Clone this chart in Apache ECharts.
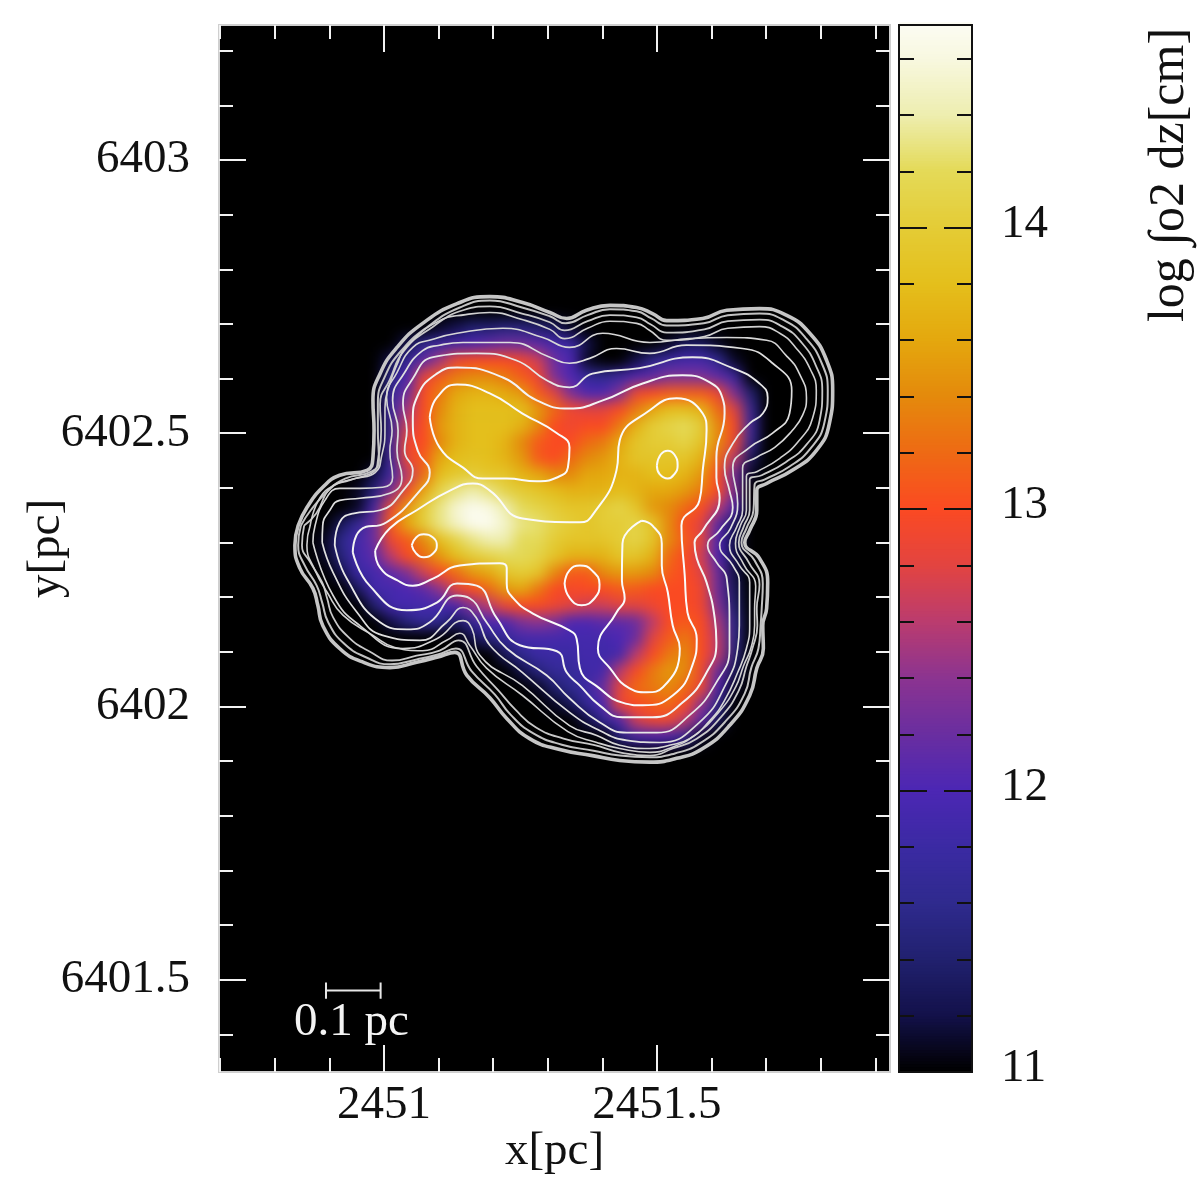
<!DOCTYPE html>
<html>
<head>
<meta charset="utf-8">
<title>log column density map</title>
<script src="https://cdn.jsdelivr.net/npm/echarts@6/dist/echarts.min.js"></script>
<style>
  html, body { margin: 0; padding: 0; background: #fff; }
  #heatClip { position: absolute; left: 219px; top: 25px; width: 671px; height: 1047px; overflow: hidden; background: #000; }
  #heat { position: absolute; left: 0; top: 0; width: 671px; height: 1047px; filter: blur(7px); }
  #main { position: absolute; left: 0; top: 0; width: 1200px; height: 1200px; }
</style>
</head>
<body>
<div id="heatClip"><div id="heat"></div></div>
<div id="main"></div>
<script>
// Plot ranges in parsec and colour range in log column density.
const xRange = [2450.698, 2451.927];
const yRange = [6401.331, 6403.247];
const cRange = [11, 14.72];

// Axis ticks.
const xMajor = [2451, 2451.5];
const xMinor = [2450.7, 2450.8, 2450.9, 2451, 2451.1, 2451.2, 2451.3, 2451.4, 2451.5, 2451.6, 2451.7, 2451.8, 2451.9];
const yMajor = [6401.5, 6402, 6402.5, 6403];
const yMinor = [6401.4, 6401.5, 6401.6, 6401.7, 6401.8, 6401.9, 6402, 6402.1, 6402.2, 6402.3, 6402.4, 6402.5, 6402.6, 6402.7, 6402.8, 6402.9, 6403, 6403.1, 6403.2];
const cLabels = [11, 12, 13, 14];
const cMajor = [12, 13, 14];
const cMinor = [11.2, 11.4, 11.6, 11.8, 12, 12.2, 12.4, 12.6, 12.8, 13, 13.2, 13.4, 13.6, 13.8, 14, 14.2, 14.4, 14.6];

// Colour map, one stop every 0.2 dex from 11 to 14.8.
const colourStops = ['#000000', '#13114a', '#21216f', '#2f2a8e', '#3b2aa3', '#4c27b4', '#6a2ea0', '#8c3490', '#bb3c6e', '#e34440',
  '#fb4a22', '#ee6a14', '#e48a0c', '#e4a80e', '#e4bf1c', '#e4cc36', '#e4da58', '#eeeeb0', '#f8f8e0', '#ffffff'];

// Projected map on a 41 x 64 cell lattice; rows below start at row 18, columns at column 6.
const cols = 41, rows = 64, firstRow = 18, firstCol = 6;
const heatRows = [
  [11,11,11,11,11,11,11,11.1,11.2,11.4,11.4,11.5,11.5,11.4,11.3,11.1,11,11,11,11,11,11,11,11,11,11,11,11],
  [11,11,11,11,11,11.2,11.6,11.8,11.9,12,12.1,12.2,12.2,12.1,11.9,11.8,11.2,11,11,11,11,11.1,11.3,11.3,11.1,11,11,11],
  [11,11,11,11,11.2,11.7,12.1,12.5,12.9,13,13,13,12.9,12.7,12.2,12,11.1,11,11,11.2,11.6,11.8,11.9,11.9,11.6,11.1,11,11],
  [11,11,11,11,11.5,12,12.8,13.1,13.3,13.4,13.4,13.3,13.1,12.9,12.3,12,11.7,11.6,11.8,12,12.1,12.3,12.3,12.3,12.1,11.8,11,11],
  [11,11,11,11,11.7,12.2,13,13.3,13.6,13.7,13.7,13.6,13.5,13.1,12.8,12.3,12,12,12.3,12.9,13,13.1,13.1,13.1,12.9,12.3,11.4,11],
  [11,11,11,11,11.8,12.5,13,13.4,13.7,13.8,13.8,13.8,13.8,13.5,13.2,12.9,12.8,12.8,13,13.3,13.6,13.8,13.8,13.7,13.2,12.8,11.7,11],
  [11,11,11,11,11.7,12.7,13,13.5,13.7,13.8,13.8,13.8,13.7,13.4,13,12.9,13,13,13.3,13.7,14,14.1,14.2,14,13.4,13,11.8,11],
  [11,11,11,11,11.8,12.9,13,13.4,13.7,13.8,13.8,13.7,13.4,13.1,13,13,13.2,13.3,13.6,13.9,14,14,14.1,13.9,13.4,12.9,11.7,11],
  [11,11,11,11,11.8,12.9,13.1,13.6,13.8,13.85,13.8,13.7,13.5,13.1,13,13.2,13.4,13.5,13.7,13.9,13.9,13.9,13.9,13.7,13.2,12.6,11.3,11],
  [11,11,11,11.2,11.8,12.6,13.2,13.8,13.95,14,13.9,13.9,13.7,13.6,13.4,13.4,13.6,13.6,13.7,13.7,13.8,13.8,13.7,13.5,13,12.2,11.1,11],
  [11,11,11.1,11.5,12.3,13,13.6,14.1,14.3,14.4,14.3,14.1,14,13.9,13.8,13.7,13.7,13.7,13.8,13.7,13.6,13.6,13.5,13.3,13,12.3,11,11],
  [11,11,11.1,11.9,12.9,13.5,14,14.3,14.55,14.7,14.6,14.4,14.2,14.1,14,13.9,13.9,14,14.1,13.9,13.5,13.4,13.2,13,12.6,12,11,11],
  [11,11.3,11.7,12.2,13.1,13.6,14,14.3,14.5,14.7,14.7,14.5,14.3,14.25,14.1,14,13.9,14,14,14.1,13.9,13.4,13,12.8,12.1,11.3,11,11],
  [11.1,11.6,11.9,12.2,12.9,13.1,13.4,13.8,14.1,14.3,14.4,14.4,14.2,14.2,14,13.9,13.9,13.9,14,14.1,13.9,13.4,13.1,12.8,12,11.2,11,11],
  [11.1,11.5,11.9,12.1,12.6,13,13.2,13.5,13.8,14,14.1,14.2,14.2,14.1,13.9,13.7,13.7,13.7,13.9,13.9,13.7,13.2,13,12.7,12,11.2,11,11],
  [11,11.2,11.8,11.9,12.1,12.3,12.7,13,13.2,13.5,13.6,13.9,14,13.9,13.4,13.1,13.1,13.4,13.5,13.5,13.4,13.1,13,12.8,12.2,11.2,11,11],
  [11,11,11.3,11.9,11.9,12,12.1,12.4,12.8,13,13.2,13.5,13.6,13.3,13,12.95,13,13,13.1,13.1,13,13,13,12.9,12.2,11.3,11,11],
  [11,11,11,11.4,11.9,11.9,11.9,11.9,12,12.4,12.6,12.9,13,13,12.9,12.8,12.7,12.7,12.8,12.8,12.9,13,13,12.9,12.3,11.4,11,11],
  [11,11,11,11,11.2,11.5,11.7,11.6,11.3,11.7,12,12,12.3,12.4,12.3,12,12,12.1,12.1,12.2,12.6,13,13.1,13,12.5,11.6,11,11],
  [11,11,11,11,11,11,11,11,11,11.2,11.5,11.7,11.9,11.9,11.9,11.9,11.9,11.9,12,12.2,12.8,13.1,13.3,13,12.6,11.6,11,11],
  [11,11,11,11,11,11,11,11,11,11,11,11.3,11.6,11.8,11.8,11.8,11.9,11.85,11.9,12.6,13,13.3,13.4,13,12.6,11.5,11,11],
  [11,11,11,11,11,11,11,11,11,11,11,11,11.2,11.5,11.7,11.7,11.85,11.9,12.6,13,13.3,13.5,13.4,12.9,12.2,11.3,11,11],
  [11,11,11,11,11,11,11,11,11,11,11,11,11,11.1,11.4,11.6,11.8,12.2,12.8,13.2,13.3,13.4,13.2,12.9,12,11.1,11,11],
  [11,11,11,11,11,11,11,11,11,11,11,11,11,11,11.1,11.3,11.7,12,12.9,13,13.1,13.2,13,12.4,11.6,11,11,11],
  [11,11,11,11,11,11,11,11,11,11,11,11,11,11,11,11,11.2,11.7,12,12.7,12.9,12.9,12.6,12.1,11.3,11,11,11],
  [11,11,11,11,11,11,11,11,11,11,11,11,11,11,11,11,11,11,11.5,11.9,12,12,11.7,11.1,11,11,11,11]
];

// Contour reference point in pc; contour vertices are given in milli-parsec from it.
const originX = 2451, originY = 6402;

const contour0 = [[-157,331],[-141,364],[-112,401],[-81,423],[-31,432],[-20,456],[-18,505],[-20,560],[-7,609],[24,657],[71,701],[134,737],[194,750],[254,739],[304,721],[335,710],[371,725],[414,734],[463,730],[492,719],[518,706],[584,710],[628,725],[688,728],[737,716],[780,683],[811,633],[822,578],[816,518],[792,468],[748,432],[701,408],[683,395],[683,359],[670,322],[661,300],[688,271],[703,227],[701,179],[694,148],[695,106],[683,70],[670,20],[633,-35],[584,-77],[536,-95],[487,-102],[432,-99],[382,-90],[322,-79],[267,-59],[225,-22],[194,16],[152,57],[130,99],[97,90],[60,81],[11,71],[-38,81],[-81,106],[-112,148],[-121,185],[-130,216],[-154,253],[-163,295]];
const contour1 = [[-152,331],[-134,359],[-104,393],[-71,417],[-22,430],[-9,450],[-11,505],[-11,556],[2,604],[31,650],[79,694],[139,730],[194,743],[253,730],[304,714],[333,701],[373,716],[414,727],[463,723],[490,710],[518,697],[586,701],[630,716],[688,719],[734,706],[772,675],[802,628],[813,578],[807,520],[783,474],[743,439],[697,415],[679,406],[677,359],[664,326],[655,300],[679,267],[694,225],[692,179],[690,148],[686,106],[673,71],[661,24],[626,-27],[578,-68],[533,-86],[487,-93],[432,-90],[384,-81],[326,-70],[273,-49],[232,-15],[203,22],[161,64],[132,106],[99,95],[60,86],[11,77],[-33,90],[-73,115],[-102,154],[-113,190],[-123,221],[-145,258],[-157,295]];
const contour2 = [[-146,331],[-124,353],[-97,401],[-62,414],[-16,432],[-11,450],[-5,505],[-7,553],[11,598],[37,651],[90,695],[145,725],[194,732],[253,719],[304,703],[331,688],[373,705],[414,716],[463,712],[489,699],[518,684],[587,690],[630,705],[688,708],[730,695],[765,666],[792,622],[803,578],[798,523],[774,479],[736,447],[692,423],[670,415],[670,359],[659,329],[650,300],[668,264],[688,223],[683,179],[684,148],[675,106],[664,73],[650,29],[617,-20],[573,-59],[529,-77],[487,-90],[432,-84],[386,-71],[329,-59],[278,-38],[240,-5],[210,29],[170,73],[137,121],[102,102],[60,93],[15,84],[-27,101],[-64,126],[-93,163],[-104,198],[-113,227],[-135,264],[-150,295]];
const contour3 = [[-135,331],[-117,382],[-88,406],[-53,417],[-16,428],[-4,459],[2,505],[2,547],[11,591],[26,630],[40,657],[102,706],[150,717],[194,721],[253,708],[304,690],[331,673],[373,692],[414,705],[463,701],[487,688],[518,670],[587,677],[630,692],[688,695],[725,683],[754,657],[781,617],[792,578],[785,527],[761,487],[725,454],[684,430],[664,421],[664,359],[653,331],[644,298],[659,260],[681,220],[679,179],[679,148],[672,106],[659,75],[644,35],[613,-11],[569,-53],[527,-75],[487,-84],[432,-77],[390,-66],[337,-46],[254,20],[188,70],[157,112],[139,134],[115,121],[71,102],[20,108],[-20,130],[-75,167],[-104,209],[-126,249],[-141,295]];
const contour4 = [[-130,300],[-126,331],[-108,377],[-81,399],[-44,399],[-2,401],[16,419],[11,468],[15,505],[5,565],[24,611],[53,657],[90,672],[134,683],[218,692],[291,675],[340,657],[401,683],[487,666],[560,673],[628,675],[701,670],[737,642],[761,609],[774,565],[767,533],[748,505],[716,474],[683,456],[657,436],[657,359],[646,328],[633,295],[651,258],[670,227],[670,179],[670,148],[664,106],[648,62],[624,11],[597,-26],[560,-59],[523,-71],[487,-77],[432,-71],[390,-53],[340,-35],[254,38],[176,93],[161,143],[145,157],[97,124],[35,106],[-44,148],[-93,203]];
const contour5 = [[-113,300],[-112,331],[-99,359],[-81,377],[-44,381],[11,390],[33,419],[24,468],[26,505],[16,560],[38,611],[71,651],[102,661],[145,666],[231,666],[304,639],[340,628],[377,637],[426,655],[487,646],[554,661],[657,655],[712,628],[747,578],[743,536],[712,500],[670,474],[639,437],[648,371],[635,326],[615,295],[639,258],[651,227],[651,148],[648,106],[628,44],[578,-29],[505,-66],[445,-62],[395,-44],[340,-11],[254,62],[194,112],[170,161],[145,181],[115,154],[66,121],[-2,130],[-49,172],[-93,245]];
const contour6 = [[-90,295],[-81,337],[-57,353],[-7,359],[35,395],[53,432],[38,468],[42,505],[35,554],[53,600],[90,639],[170,646],[243,633],[298,597],[340,584],[382,609],[468,619],[565,639],[639,619],[688,591],[703,565],[694,536],[670,518],[639,481],[624,437],[633,395],[639,364],[615,322],[593,295],[609,264],[628,234],[633,148],[633,106],[609,44],[560,-16],[500,-48],[445,-48],[395,-29],[340,15],[298,57],[225,106],[188,154],[157,198],[134,203],[84,154],[42,141],[-7,154],[-68,234]];
const contour7 = [[-57,282],[-44,322],[5,337],[66,395],[84,428],[62,468],[53,523],[62,569],[97,609],[134,620],[218,602],[280,560],[340,545],[401,560],[474,591],[547,606],[597,593],[620,565],[624,536],[609,456],[609,419],[615,382],[584,322],[569,300],[573,271],[591,227],[606,161],[609,117],[591,62],[547,7],[492,-20],[437,-20],[395,2],[359,38],[335,62],[317,101],[249,112],[207,161],[170,221],[134,225],[97,190],[42,176],[-26,221]];
const contourUpper = [[84,529],[97,565],[134,589],[194,573],[254,536],[317,500],[340,474],[337,437],[317,419],[280,412],[225,417],[181,417],[145,437],[102,474]];
const contourCore = [[-16,285],[-7,254],[24,231],[53,221],[90,234],[139,258],[212,262],[225,254],[225,225],[236,199],[273,170],[340,139],[353,124],[359,70],[395,33],[437,7],[474,2],[529,20],[565,75],[573,124],[556,172],[551,240],[545,331],[578,377],[584,432],[591,505],[584,536],[536,564],[487,542],[432,487],[426,432],[382,350],[359,337],[254,344],[194,395],[163,408],[121,395],[60,359],[11,326]];
const contourLower = [[472,340],[437,298],[436,231],[441,198],[426,172],[392,106],[414,70],[450,33],[481,26],[511,35],[542,106],[529,148],[520,209],[509,258],[509,298],[492,331]];
const loopWest = [[51,295],[59,309],[73,315],[90,309],[97,295],[90,280],[73,273],[59,280]];
const loopSouth = [[331,225],[340,249],[359,258],[381,249],[395,223],[386,198],[362,185],[340,199]];
const loopEast = [[500,441],[507,461],[520,468],[532,461],[538,441],[532,425],[520,417],[505,425]];

// Scale bar: 0.1 pc long.
const scaleBarX = [2450.894, 2450.994];
const scaleBarY = 6401.480;
const scaleBarCap = 0.015;

const serif = '"Liberation Serif", "Times New Roman", serif';

// Underlying colour map, softened by the blur on its container.
const heatData = [];
heatRows.forEach(function (row, j) {
  row.forEach(function (v, i) { heatData.push([firstCol + i, firstRow + j, v]); });
});
const heatChart = echarts.init(document.getElementById('heat'), null, { renderer: 'canvas' });
heatChart.setOption({
  animation: false,
  backgroundColor: '#000',
  grid: { left: 0, right: 0, top: 0, bottom: 0, outerBoundsMode: 'none' },
  xAxis: { type: 'category', show: false, data: Array.from({ length: cols }, function (_, i) { return i; }) },
  yAxis: { type: 'category', show: false, inverse: true, data: Array.from({ length: rows }, function (_, j) { return j; }) },
  visualMap: { show: false, type: 'continuous', min: 11, max: 14.8, dimension: 2, inRange: { color: colourStops } },
  series: [{ type: 'heatmap', data: heatData, progressive: 0, emphasis: { disabled: true } }]
});

// Axes are doubled per side so major and minor ticks can have their own lengths.
function frameAxis(kind, position, gridIndex, range, ticks, tickLen, colour, labelCfg, name) {
  const a = {
    type: 'value', gridIndex: gridIndex, position: position, min: range[0], max: range[1], z: 10,
    splitLine: { show: false },
    axisLine: { show: true, onZero: false, lineStyle: { color: colour, width: 2 } },
    axisTick: { show: true, inside: true, length: tickLen, customValues: ticks, lineStyle: { color: colour === '#111' ? '#111' : '#f2f2f2', width: 2 } },
    axisLabel: { show: false }
  };
  if (labelCfg) a.axisLabel = labelCfg;
  if (name) Object.assign(a, name);
  return a;
}
function valueLabel(values, margin, extra) {
  return Object.assign({
    show: true, customValues: values, margin: margin, color: '#111',
    fontFamily: serif, fontSize: 47, formatter: function (v) { return String(v); }
  }, extra || {});
}
const frame = '#cfcfcf', barFrame = '#111';

const xAxes = [
  frameAxis('x', 'bottom', 0, xRange, xMajor, 27, frame, valueLabel(xMajor, 10), {
    name: 'x[pc]', nameLocation: 'middle', nameGap: 56, nameMoveOverlap: false,
    nameTextStyle: { color: '#111', fontFamily: serif, fontSize: 47 }
  }),
  frameAxis('x', 'bottom', 0, xRange, xMinor, 14, frame),
  frameAxis('x', 'top', 0, xRange, xMajor, 27, frame),
  frameAxis('x', 'top', 0, xRange, xMinor, 14, frame),
  Object.assign(frameAxis('x', 'bottom', 1, [0, 1], [], 0, barFrame), { axisTick: { show: false } }),
  Object.assign(frameAxis('x', 'top', 1, [0, 1], [], 0, barFrame), { axisTick: { show: false } })
];
const yAxes = [
  frameAxis('y', 'left', 0, yRange, yMajor, 27, frame, valueLabel(yMajor, 29), {
    name: 'y[pc]', nameLocation: 'middle', nameGap: 149, nameRotate: 90, nameMoveOverlap: false,
    nameTextStyle: { color: '#111', fontFamily: serif, fontSize: 47 }
  }),
  frameAxis('y', 'left', 0, yRange, yMinor, 14, frame),
  frameAxis('y', 'right', 0, yRange, yMajor, 27, frame),
  frameAxis('y', 'right', 0, yRange, yMinor, 14, frame),
  frameAxis('y', 'left', 1, cRange, cMajor, 28, barFrame),
  frameAxis('y', 'left', 1, cRange, cMinor, 15, barFrame),
  frameAxis('y', 'right', 1, cRange, cMajor, 28, barFrame,
    valueLabel(cLabels, 29, { align: 'left', verticalAlign: 'bottom', lineHeight: 6 })),
  frameAxis('y', 'right', 1, cRange, cMinor, 15, barFrame)
];

// Contour series, outermost first.
function contourSeries(points, width, colour) {
  const closed = points.concat([points[0]]).map(function (p) {
    return [originX + p[0] / 1000, originY + p[1] / 1000];
  });
  return {
    type: 'line', xAxisIndex: 0, yAxisIndex: 0, data: closed, smooth: 0.5, symbol: 'none', silent: true,
    lineStyle: { color: colour, width: width }, z: 4, clip: true
  };
}
const contourStyles = [
  [contour0, 3.6, '#c6c6c6'], [contour1, 2, '#c2c2c2'], [contour2, 1.8, '#c8c8c8'], [contour3, 1.6, '#d0d0d0'],
  [contour4, 1.6, '#d6d6d6'], [contour5, 1.7, '#dedede'], [contour6, 1.8, '#e8e8e8'], [contour7, 2, '#f4f4f4'],
  [contourUpper, 2, '#fbfbfb'], [contourCore, 2, '#fbfbfb'], [contourLower, 2, '#fbfbfb'],
  [loopWest, 2, '#fbfbfb'], [loopSouth, 2, '#fbfbfb'], [loopEast, 2, '#fbfbfb']
];

// Colour bar cells follow the same colour map through the visual mapping.
const barStep = 0.01;
const barLevels = [];
for (let v = cRange[0]; v < cRange[1]; v += barStep) barLevels.push([0, v, v]);

const chart = echarts.init(document.getElementById('main'), null, { renderer: 'canvas' });
const series = contourStyles.map(function (c) { return contourSeries(c[0], c[1], c[2]); });
series.push({
  type: 'line', xAxisIndex: 0, yAxisIndex: 0, symbol: 'none', silent: true, z: 5,
  lineStyle: { color: '#e6e6e6', width: 2 },
  data: [
    [scaleBarX[0], scaleBarY + scaleBarCap], [scaleBarX[0], scaleBarY - scaleBarCap], [scaleBarX[0], scaleBarY],
    [scaleBarX[1], scaleBarY], [scaleBarX[1], scaleBarY + scaleBarCap], [scaleBarX[1], scaleBarY - scaleBarCap]
  ]
});
series.push({
  type: 'custom', xAxisIndex: 4, yAxisIndex: 4, silent: true, z: 2, data: barLevels,
  encode: { x: 0, y: 1 },
  renderItem: function (params, api) {
    const low = api.coord([0, api.value(1)]);
    const high = api.coord([1, api.value(1) + barStep]);
    return {
      type: 'rect',
      shape: { x: low[0], y: high[1], width: high[0] - low[0], height: low[1] - high[1] + 0.8 },
      style: { fill: api.visual('color') }
    };
  }
});

chart.setOption({
  animation: false,
  backgroundColor: 'transparent',
  grid: [
    { left: 219, top: 25, width: 671, height: 1047, outerBoundsMode: 'none' },
    { left: 899, top: 25, width: 73, height: 1047, outerBoundsMode: 'none' }
  ],
  xAxis: xAxes,
  yAxis: yAxes,
  visualMap: {
    show: false, type: 'continuous', min: 11, max: 14.8, dimension: 2,
    seriesIndex: series.length - 1, inRange: { color: colourStops }
  },
  series: series,
  graphic: [
    {
      type: 'text', left: 294, top: 999, z: 20,
      style: { text: '0.1 pc', fill: '#f4f4f4', font: '47px ' + serif }
    },
    {
      type: 'text', x: 1170, y: 175, rotation: Math.PI / 2, z: 20,
      style: { text: 'log \u222Bo2 dz[cm]', fill: '#111', font: '50px ' + serif, align: 'center', verticalAlign: 'middle' }
    }
  ]
});
</script>
</body>
</html>
